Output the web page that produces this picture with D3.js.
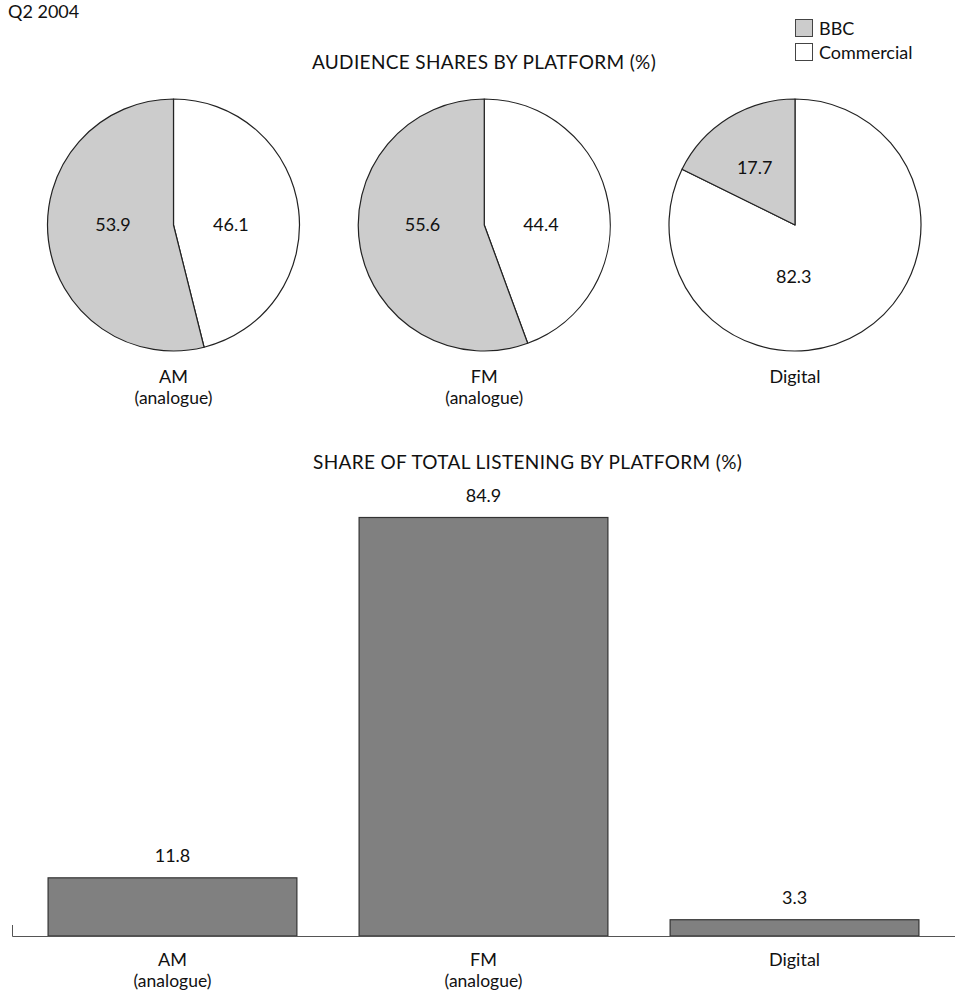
<!DOCTYPE html>
<html>
<head>
<meta charset="utf-8">
<script src="https://cdn.jsdelivr.net/npm/d3@7"></script>
<style>
  html, body { margin: 0; padding: 0; background: #fff; }
  svg { display: block; }
  text { font-family: Lato, "Open Sans", sans-serif; fill: #111; font-size: 18px; }
  text.title { font-size: 19px; letter-spacing: 0.35px; }
  text.sub { font-size: 17.5px; }
</style>
</head>
<body>
<svg id="chart" width="955" height="992"></svg>
<script>
// ---- data ----
const platforms = ["AM", "FM", "Digital"];
const platformSub = ["(analogue)", "(analogue)", ""];
const seriesNames = ["BBC", "Commercial"];
const bbcShare = [53.9, 55.6, 17.7];
const commercialShare = [46.1, 44.4, 82.3];
const listeningShare = [11.8, 84.9, 3.3];
const periodLabel = "Q2 2004";
const pieTitle = "AUDIENCE SHARES BY PLATFORM (%)";
const barTitle = "SHARE OF TOTAL LISTENING BY PLATFORM (%)";

// ---- styles ----
const colors = { BBC: "#cccccc", Commercial: "#ffffff" };
const svg = d3.select("#chart");
const W = 955;

svg.append("text").attr("x", 8).attr("y", 18).text(periodLabel);

// legend
const legend = svg.append("g").attr("transform", "translate(795,19)");
seriesNames.forEach((s, i) => {
  const g = legend.append("g").attr("transform", `translate(0,${i * 24})`);
  g.append("rect").attr("x", 0.5).attr("y", 0.5).attr("width", 17).attr("height", 17)
    .attr("fill", colors[s]).attr("stroke", "#444").attr("stroke-width", 1);
  g.append("text").attr("x", 24).attr("y", 16).text(s);
});

svg.append("text").attr("class", "title").attr("x", 484).attr("y", 69)
  .attr("text-anchor", "middle").text(pieTitle);

// ---- pies ----
const pieX = d3.scalePoint().domain(platforms).range([173.5, 795]);
const pieCY = 225, R = 126;
const pie = d3.pie().sort(null).value(d => d.v).startAngle(0).endAngle(2 * Math.PI);
const arc = d3.arc().innerRadius(0).outerRadius(R);
// label offsets in radius units (dx, dy) for [Commercial, BBC]
const labelOffsets = [
  [[0.455, 0.0], [-0.48, 0.0]],
  [[0.45, 0.0], [-0.49, 0.0]],
  [[-0.01, 0.41], [-0.32, -0.46]]
];

platforms.forEach((p, i) => {
  const g = svg.append("g").attr("transform", `translate(${pieX(p)},${pieCY})`);
  const data = [
    { k: "Commercial", v: commercialShare[i] },
    { k: "BBC", v: bbcShare[i] }
  ];
  const arcs = pie(data);
  g.selectAll("path").data(arcs).join("path")
    .attr("d", arc).attr("fill", d => colors[d.data.k])
    .attr("stroke", "#222").attr("stroke-width", 1.2).attr("stroke-linejoin", "round");
  g.selectAll("text.val").data(arcs).join("text").attr("class", "val")
    .attr("x", (d, j) => labelOffsets[i][j][0] * R)
    .attr("y", (d, j) => labelOffsets[i][j][1] * R)
    .attr("dy", "0.36em").attr("text-anchor", "middle")
    .text(d => d.data.v.toFixed(1));
  svg.append("text").attr("x", pieX(p)).attr("y", 383).attr("text-anchor", "middle").text(p);
  if (platformSub[i]) svg.append("text").attr("class", "sub").attr("x", pieX(p)).attr("y", 404)
    .attr("text-anchor", "middle").text(platformSub[i]);
});

// ---- bars ----
svg.append("text").attr("class", "title").attr("x", 313).attr("y", 469).text(barTitle);

const base = 936;
const x = d3.scaleBand().domain(platforms).range([12, W]).paddingInner(0.2).paddingOuter(0.116);
const y = d3.scaleLinear().domain([0, 84.9]).range([base, 517.5]);

svg.selectAll("rect.bar").data(platforms).join("rect").attr("class", "bar")
  .attr("x", d => x(d)).attr("width", x.bandwidth())
  .attr("y", (d, i) => y(listeningShare[i]))
  .attr("height", (d, i) => base - y(listeningShare[i]))
  .attr("fill", "#808080").attr("stroke", "#333").attr("stroke-width", 1.2);

svg.selectAll("text.bv").data(platforms).join("text").attr("class", "bv")
  .attr("x", d => x(d) + x.bandwidth() / 2)
  .attr("y", (d, i) => y(listeningShare[i]) - 16)
  .attr("text-anchor", "middle")
  .text((d, i) => listeningShare[i].toFixed(1));

// axis baseline with left tick
svg.append("path").attr("d", `M12.5,925V${base + 0.5}H${W}`)
  .attr("fill", "none").attr("stroke", "#555").attr("stroke-width", 1);

platforms.forEach((p, i) => {
  const cx = x(p) + x.bandwidth() / 2;
  svg.append("text").attr("x", cx).attr("y", 966).attr("text-anchor", "middle").text(p);
  if (platformSub[i]) svg.append("text").attr("class", "sub").attr("x", cx).attr("y", 987)
    .attr("text-anchor", "middle").text(platformSub[i]);
});
</script>
</body>
</html>
